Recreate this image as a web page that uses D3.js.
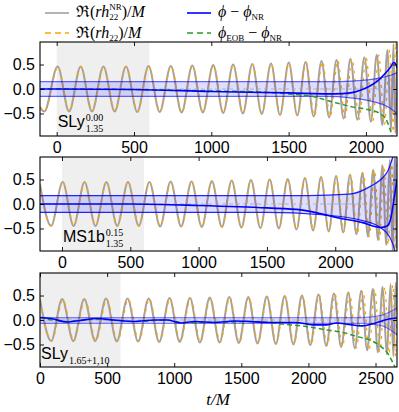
<!DOCTYPE html>
<html>
<head>
<meta charset="UTF-8">
<script src="https://cdn.jsdelivr.net/npm/d3@7"></script>
<style>
  body { margin: 0; background: #fff; }
  svg { display: block; }
  text { white-space: pre; }
</style>
</head>
<body>
<svg id="chart" width="399" height="412"></svg>
<script>
// ---- data (t/M, value) ----
const labels = ["SLy", "MS1b", "SLy"];
const labelSup = ["0.00", "0.15", ""];
const labelSub = ["1.35", "1.35", "1.65+1,10"];
const tDomain = [[-108, 2201], [-161, 2452], [0, 2660]];
const xTicks = [[0, 500, 1000, 1500, 2000], [0, 500, 1000, 1500, 2000], [0, 500, 1000, 1500, 2000, 2500]];
const yTicks = [-0.5, 0, 0.5];
const shade = [0, 600];

// waveform extrema, Re(r h22^NR)/M and Re(r h22)/M
const p1NR = [[-108,-0.38],[-80,-0.46],[6,0.46],[80,-0.46],[155,0.46],[228,-0.46],[302,0.46],[375,-0.46],[448,0.46],[521,-0.47],[594,0.47],[666,-0.47],[738,0.47],[808,-0.48],[877,0.48],[945,-0.48],[1012,0.49],[1077,-0.49],[1141,0.5],[1204,-0.5],[1265,0.51],[1326,-0.51],[1386,0.52],[1444,-0.53],[1501,0.54],[1556,-0.54],[1610,0.55],[1662,-0.56],[1713,0.57],[1762,-0.58],[1810,0.59],[1856,-0.6],[1900,0.62],[1945,-0.63],[1990,0.65],[2032,-0.67],[2070,0.7],[2106,-0.74],[2140,0.8],[2162,-0.86],[2178,0.92],[2190,-0.9],[2201,0.4]];
const p1EOB = [[-108,-0.36],[-78,-0.45],[8,0.45],[82,-0.45],[157,0.45],[230,-0.45],[304,0.45],[377,-0.45],[450,0.45],[523,-0.46],[596,0.46],[668,-0.46],[740,0.46],[810,-0.47],[879,0.47],[947,-0.47],[1014,0.48],[1079,-0.48],[1143,0.49],[1206,-0.49],[1267,0.5],[1328,-0.5],[1388,0.51],[1446,-0.52],[1503,0.53],[1559,-0.53],[1614,0.54],[1667,-0.55],[1719,0.56],[1769,-0.57],[1818,0.58],[1865,-0.59],[1910,0.61],[1956,-0.62],[2001,0.64],[2044,-0.66],[2083,0.69],[2120,-0.73],[2154,0.8],[2177,-0.88],[2193,0.95],[2201,0.2]];
const p2NR = [[-161,0.40],[-80,-0.45],[5,0.45],[85,-0.45],[165,0.45],[245,-0.45],[325,0.45],[404,-0.45],[483,0.45],[562,-0.45],[640,0.45],[718,-0.46],[795,0.46],[872,-0.46],[948,0.46],[1023,-0.47],[1097,0.47],[1170,-0.47],[1242,0.48],[1313,-0.48],[1383,0.49],[1452,-0.49],[1520,0.5],[1587,-0.5],[1652,0.51],[1716,-0.52],[1778,0.53],[1838,-0.54],[1896,0.55],[1952,-0.56],[2006,0.57],[2058,-0.58],[2108,0.6],[2155,-0.62],[2199,0.64],[2240,-0.67],[2278,0.7],[2313,-0.74],[2345,0.79],[2374,-0.84],[2399,0.9],[2420,-0.95],[2437,1.0],[2450,-0.9]];
const p2EOB = [[-161,0.38],[-78,-0.44],[7,0.44],[87,-0.44],[167,0.44],[247,-0.44],[327,0.44],[406,-0.44],[485,0.44],[564,-0.44],[642,0.44],[720,-0.45],[797,0.45],[874,-0.45],[950,0.45],[1025,-0.46],[1099,0.46],[1172,-0.46],[1244,0.47],[1315,-0.47],[1385,0.48],[1454,-0.48],[1522,0.49],[1589,-0.49],[1654,0.5],[1718,-0.51],[1780,0.52],[1840,-0.53],[1898,0.54],[1955,-0.55],[2010,0.56],[2063,-0.57],[2114,0.59],[2162,-0.61],[2207,0.63],[2249,-0.66],[2288,0.69],[2324,-0.73],[2357,0.78],[2387,-0.84],[2413,0.9],[2435,-0.95],[2452,0.95]];
const p3NR = [[0,0.42],[83,-0.43],[165,0.43],[248,-0.43],[330,0.43],[411,-0.43],[492,0.44],[572,-0.44],[652,0.44],[731,-0.44],[810,0.44],[888,-0.45],[965,0.45],[1041,-0.45],[1117,0.45],[1191,-0.46],[1265,0.46],[1338,-0.46],[1410,0.47],[1481,-0.47],[1552,0.47],[1621,-0.48],[1690,0.48],[1757,-0.49],[1823,0.49],[1888,-0.5],[1952,0.5],[2014,-0.51],[2075,0.52],[2133,-0.53],[2190,0.54],[2244,-0.55],[2297,0.56],[2346,-0.58],[2394,0.6],[2438,-0.62],[2480,0.64],[2518,-0.66],[2553,0.68],[2584,-0.7],[2612,0.73],[2633,-0.74],[2650,0.76],[2660,0.2]];
const p3EOB = [[0,0.38],[88,-0.42],[171,0.41],[253,-0.42],[336,0.41],[417,-0.42],[498,0.42],[578,-0.43],[658,0.42],[737,-0.43],[815,0.43],[893,-0.44],[970,0.44],[1046,-0.44],[1122,0.44],[1196,-0.45],[1270,0.45],[1343,-0.45],[1415,0.46],[1486,-0.46],[1556,0.46],[1625,-0.47],[1694,0.47],[1761,-0.48],[1827,0.48],[1893,-0.49],[1957,0.49],[2020,-0.5],[2081,0.51],[2140,-0.52],[2198,0.53],[2253,-0.54],[2307,0.55],[2358,-0.57],[2407,0.59],[2452,-0.61],[2494,0.63],[2533,-0.65],[2569,0.67],[2601,-0.69],[2629,0.72],[2650,-0.74],[2660,0.3]];

// phase differences phi - phi_NR and the NR error band
const p1Phi = [[-108,0.0],[0,0.0],[500,-0.01],[1000,-0.05],[1500,-0.08],[1800,-0.1],[1900,-0.08],[1960,-0.03],[2020,0.05],[2070,0.15],[2120,0.3],[2160,0.45],[2180,0.54],[2195,0.5],[2201,0.42]];
const p1EobPhi = [[-108,0.0],[500,-0.01],[1000,-0.04],[1300,-0.06],[1500,-0.1],[1650,-0.15],[1790,-0.27],[1920,-0.37],[2010,-0.42],[2090,-0.5],[2135,-0.65],[2168,-0.95],[2180,-1.1]];
const p1BandHi = [[-108,0.15],[1800,0.15],[1950,0.17],[2050,0.2],[2150,0.27],[2201,0.33]];
const p1BandLo = [[-108,-0.15],[1750,-0.15],[1900,-0.18],[2050,-0.26],[2150,-0.38],[2201,-0.5]];
const p2Phi = [[-161,0.0],[0,0.0],[500,0.0],[1000,-0.03],[1500,-0.08],[1750,-0.12],[2035,-0.29],[2200,-0.38],[2330,-0.48],[2380,-0.45],[2410,-0.25],[2430,0.1],[2452,0.5]];
const p2BandHi = [[-161,0.17],[1800,0.17],[2100,0.2],[2250,0.35],[2380,0.65],[2420,0.95],[2452,1.3]];
const p2BandLo = [[-161,-0.17],[1500,-0.17],[1900,-0.22],[2200,-0.34],[2330,-0.48],[2420,-0.8],[2452,-1.2]];
const p3Phi = [[0,0.05],[100,0.02],[200,-0.04],[300,-0.01],[420,0.03],[550,0.0],[700,-0.03],[850,0.0],[950,0.0],[1050,-0.06],[1150,-0.03],[1300,-0.05],[1450,-0.02],[1560,-0.03],[1700,-0.05],[1900,-0.05],[2050,-0.1],[2130,-0.1],[2210,-0.06],[2300,-0.09],[2400,-0.12],[2500,-0.06],[2600,0.02],[2660,0.04]];
const p3EobPhi = [[0,0.05],[200,-0.03],[420,0.02],[700,-0.03],[950,0.0],[1050,-0.05],[1300,-0.05],[1560,-0.03],[1800,-0.08],[2000,-0.14],[2130,-0.2],[2250,-0.25],[2380,-0.35],[2450,-0.4],[2530,-0.52],[2590,-0.68],[2627,-0.86],[2660,-1.05]];
const p3BandHi = [[0,0.05],[2400,0.05],[2550,0.1],[2660,0.25]];
const p3BandLo = [[0,-0.07],[2400,-0.07],[2550,-0.12],[2660,-0.3]];

const panels = [
  { nr: p1NR, eob: p1EOB, phi: p1Phi, eobPhi: p1EobPhi, hi: p1BandHi, lo: p1BandLo },
  { nr: p2NR, eob: p2EOB, phi: p2Phi, eobPhi: null, hi: p2BandHi, lo: p2BandLo },
  { nr: p3NR, eob: p3EOB, phi: p3Phi, eobPhi: p3EobPhi, hi: p3BandHi, lo: p3BandLo }
];

// ---- layout ----
const serif = "'Liberation Serif', 'DejaVu Serif', serif";
const sans = "'Liberation Sans', Arial, sans-serif";
const left = 40, right = 397;
const tops = [42, 157, 273], ph = 94;
const edgeAlpha = [0.6, 0.85, 0.45];

const svg = d3.select("#chart");

panels.forEach((p, i) => {
  const x = d3.scaleLinear(tDomain[i], [left, right]);
  const y = d3.scaleLinear([-0.96, 0.96], [tops[i] + ph, tops[i]]);
  const g = svg.append("g");

  g.append("clipPath").attr("id", "clip" + i)
    .append("rect").attr("x", left).attr("y", tops[i]).attr("width", right - left).attr("height", ph);
  const body = g.append("g").attr("clip-path", `url(#clip${i})`);

  // initial-data shading
  body.append("rect")
    .attr("x", x(shade[0])).attr("y", tops[i])
    .attr("width", x(shade[1]) - x(shade[0])).attr("height", ph)
    .attr("fill", "#efefef");

  const line = d3.line().x(d => x(d[0])).y(d => y(d[1])).curve(d3.curveMonotoneX);

  body.append("path").attr("d", line(p.nr))
    .attr("fill", "none").attr("stroke", "#a2a2a2").attr("stroke-width", 2);
  body.append("path").attr("d", line(p.eob))
    .attr("fill", "none").attr("stroke", "#ffa500").attr("stroke-width", 1.3)
    .attr("stroke-dasharray", "3,5");

  // error band
  const ts = Array.from(new Set(p.hi.map(d => d[0]).concat(p.lo.map(d => d[0])))).sort((a, b) => a - b);
  const hiS = d3.scaleLinear(p.hi.map(d => d[0]), p.hi.map(d => d[1])).clamp(true);
  const loS = d3.scaleLinear(p.lo.map(d => d[0]), p.lo.map(d => d[1])).clamp(true);
  body.append("path")
    .attr("d", d3.area().x(t => x(t)).y0(t => y(loS(t))).y1(t => y(hiS(t))).curve(d3.curveMonotoneX)(ts))
    .attr("fill", "rgba(0,0,255,0.13)");
  [p.hi, p.lo].forEach(b => {
    body.append("path").attr("d", line(b))
      .attr("fill", "none").attr("stroke", "#0000ff").attr("stroke-opacity", edgeAlpha[i]).attr("stroke-width", 1.2);
  });

  // zero line
  body.append("line").attr("x1", left).attr("x2", right).attr("y1", y(0)).attr("y2", y(0))
    .attr("stroke", "#aaaaaa").attr("stroke-width", 0.8).attr("stroke-dasharray", "4,3");

  if (p.eobPhi) {
    body.append("path").attr("d", line(p.eobPhi))
      .attr("fill", "none").attr("stroke", "#2b9a2b").attr("stroke-width", 1.5).attr("stroke-dasharray", "5,3");
  }
  body.append("path").attr("d", line(p.phi))
    .attr("fill", "none").attr("stroke", "#0000ff").attr("stroke-width", 1.6);

  // axes, ticks pointing inward on all sides
  const ax = g.append("g").style("font-family", serif);
  ax.append("g").attr("transform", `translate(0,${tops[i] + ph})`)
    .call(d3.axisBottom(x).tickValues(xTicks[i]).tickFormat(d3.format("d")).tickSize(-4).tickPadding(6));
  ax.append("g").attr("transform", `translate(0,${tops[i]})`)
    .call(d3.axisTop(x).tickValues(xTicks[i]).tickFormat("").tickSize(-4));
  ax.append("g").attr("transform", `translate(${left},0)`)
    .call(d3.axisLeft(y).tickValues(yTicks).tickFormat(d3.format(".1f")).tickSize(-4).tickPadding(5));
  ax.append("g").attr("transform", `translate(${right},0)`)
    .call(d3.axisRight(y).tickValues(yTicks).tickFormat("").tickSize(-4));
  ax.selectAll(".domain").remove();
  ax.selectAll(".tick line").attr("stroke", "#000").attr("stroke-width", 0.9);
  ax.selectAll(".tick text").attr("fill", "#000").style("font-size", "16px");

  g.append("rect").attr("x", left).attr("y", tops[i]).attr("width", right - left).attr("height", ph)
    .attr("fill", "none").attr("stroke", "#000").attr("stroke-width", 1.1);

  // panel label
  const lx = x(0) + 1, ly = tops[i] + ph - 9 + (i === 2 ? 1 : 0);
  const lab = g.append("text").attr("x", lx).attr("y", ly)
    .style("font-family", sans).style("font-size", "16px").attr("fill", "#000").text(labels[i]);
  const lw = lab.node().getComputedTextLength();
  if (labelSup[i]) {
    g.append("text").attr("x", lx + lw + 1).attr("y", ly - 6.5)
      .style("font-family", serif).style("font-size", "10px").text(labelSup[i]);
  }
  g.append("text").attr("x", lx + lw + 1).attr("y", ly + 5)
    .style("font-family", serif).style("font-size", "10px").text(labelSub[i]);
});

// x label
svg.append("text").attr("x", 218).attr("y", 405).attr("text-anchor", "middle")
  .style("font-family", serif).style("font-size", "17px").style("font-style", "italic").text("t/M");

// ---- legend ----
function mathText(x0, yb, parts) {
  let cx = x0, lastX = x0;
  parts.forEach(p => {
    const px = p.stack ? lastX : cx;
    const el = svg.append("text").attr("x", px).attr("y", yb + (p.dy || 0))
      .style("font-family", serif).style("font-size", (p.size || 16) + "px")
      .style("font-style", p.it ? "italic" : "normal").text(p.t);
    const w = el.node().getComputedTextLength();
    if (p.stack) cx = Math.max(cx, px + w);
    else { lastX = px; cx = px + w; }
  });
}
const legendItems = [
  { x: 45, y: 13, color: "#a2a2a2", dash: null },
  { x: 45, y: 33, color: "#ffa500", dash: "6,4" },
  { x: 187, y: 13, color: "#0000ff", dash: null },
  { x: 187, y: 33, color: "#2b9a2b", dash: "6,4" }
];
legendItems.forEach(d => {
  svg.append("line").attr("x1", d.x).attr("x2", d.x + 24).attr("y1", d.y).attr("y2", d.y)
    .attr("stroke", d.color).attr("stroke-width", 1.6).attr("stroke-dasharray", d.dash);
});
mathText(76, 17, [{ t: "ℜ(" }, { t: "rh", it: true }, { t: "NR", size: 9, dy: -7 }, { t: "22", size: 9, dy: 3, stack: true }, { t: ")/" }, { t: "M", it: true }]);
mathText(76, 38, [{ t: "ℜ(" }, { t: "rh", it: true }, { t: "22", size: 9, dy: 3 }, { t: ")/" }, { t: "M", it: true }]);
mathText(218, 17, [{ t: "ϕ", it: true }, { t: " − " }, { t: "ϕ", it: true }, { t: "NR", size: 9, dy: 3 }]);
mathText(218, 38, [{ t: "ϕ", it: true }, { t: "EOB", size: 9, dy: 3 }, { t: " − " }, { t: "ϕ", it: true }, { t: "NR", size: 9, dy: 3 }]);
</script>
</body>
</html>
